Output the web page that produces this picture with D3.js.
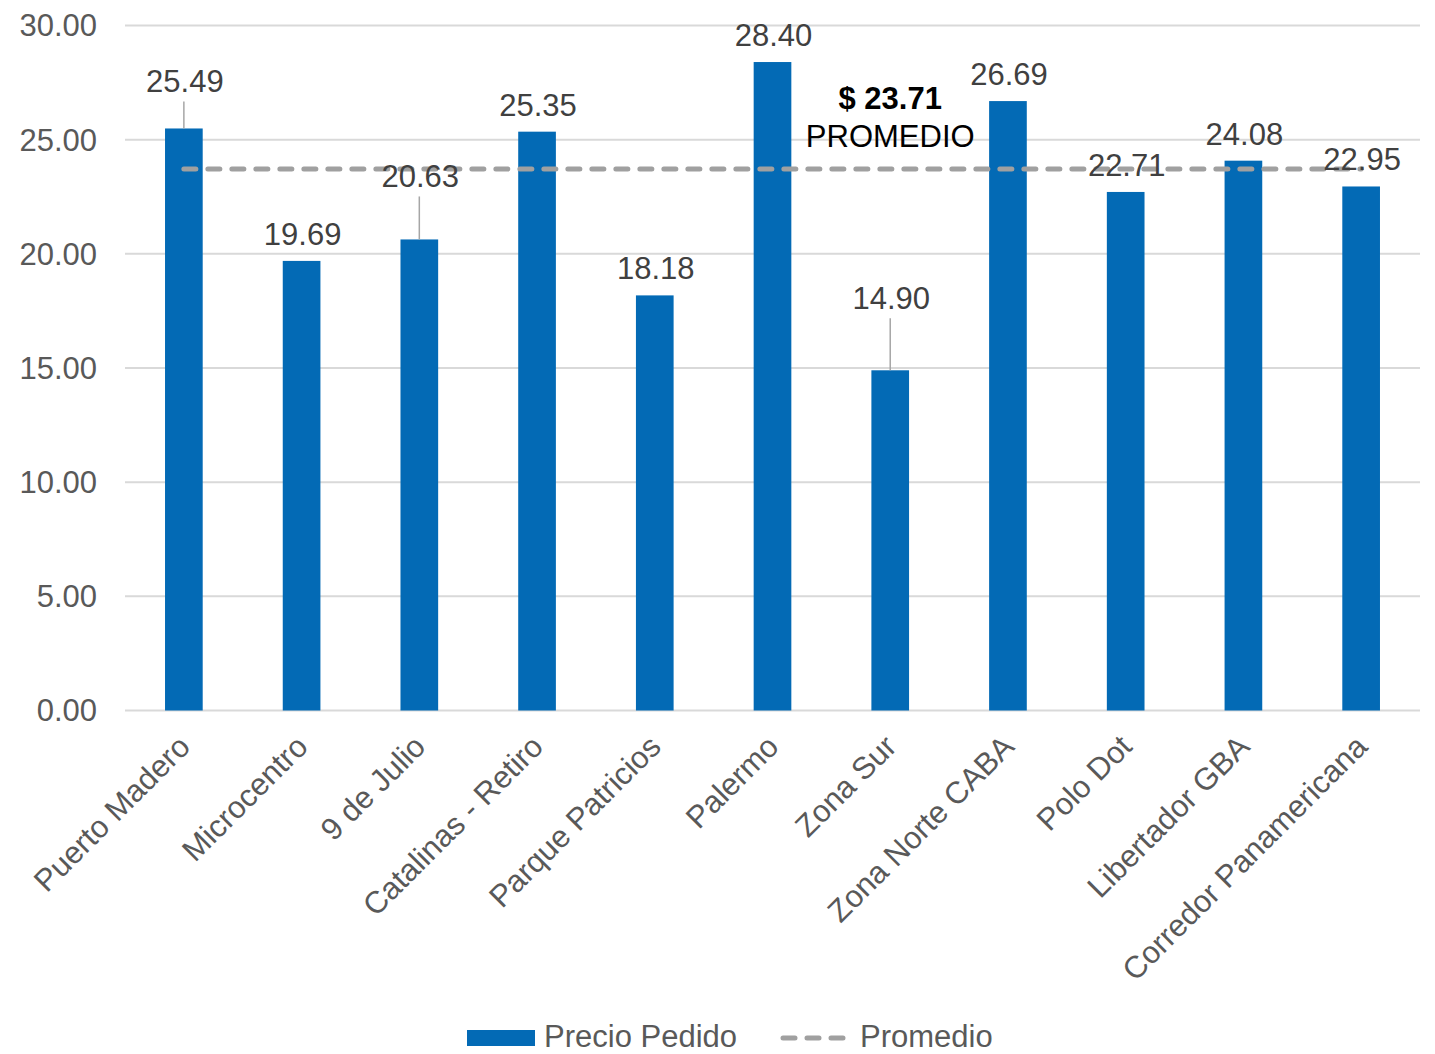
<!DOCTYPE html>
<html>
<head>
<meta charset="utf-8">
<script src="https://cdn.jsdelivr.net/npm/d3@7"></script>
<style>
  html, body { margin: 0; padding: 0; background: #fff; }
  svg text { font-family: "Liberation Sans", Arial, sans-serif; }
</style>
</head>
<body>
<svg id="chart" width="1435" height="1054"></svg>
<script>
// Asking price per zone, with the overall average drawn as a dashed line
const categories = ["Puerto Madero", "Microcentro", "9 de Julio", "Catalinas - Retiro",
  "Parque Patricios", "Palermo", "Zona Sur", "Zona Norte CABA", "Polo Dot",
  "Libertador GBA", "Corredor Panamericana"];
const precioPedido = [25.49, 19.69, 20.63, 25.35, 18.18, 28.40, 14.90, 26.69, 22.71, 24.08, 22.95];
const promedio = 23.71;
const yTicks = [0, 5, 10, 15, 20, 25, 30];
const seriesNames = ["Precio Pedido", "Promedio"];

// Extra lift (px) for labels that sit on a leader line
const leaderLift = { 0: 20, 2: 36, 6: 45 };

const svg = d3.select("#chart");
const margin = { left: 125, right: 15, top: 25.5, bottom: 343.5 };
const W = 1435, H = 1054;
const fs = 31;

const x = d3.scaleBand()
  .domain(categories)
  .range([margin.left, W - margin.right])
  .paddingInner(0.68)
  .paddingOuter(0.34);

const y = d3.scaleLinear()
  .domain([0, 30])
  .range([H - margin.bottom, margin.top]);

const blue = "#036ab5";
const grey = "#a0a0a0";

// Gridlines
svg.append("g")
  .selectAll("line")
  .data(yTicks)
  .join("line")
  .attr("x1", margin.left)
  .attr("x2", W - margin.right)
  .attr("y1", d => y(d))
  .attr("y2", d => y(d))
  .attr("stroke", "#d9d9d9")
  .attr("stroke-width", 2);

// Y axis labels
svg.append("g")
  .selectAll("text")
  .data(yTicks)
  .join("text")
  .attr("x", 97)
  .attr("y", d => y(d))
  .attr("dy", "0.35em")
  .attr("text-anchor", "end")
  .attr("font-size", fs)
  .attr("fill", "#595959")
  .text(d => d3.format(".2f")(d));

// Bars
svg.append("g")
  .selectAll("rect")
  .data(precioPedido)
  .join("rect")
  .attr("x", (d, i) => x(categories[i]))
  .attr("width", x.bandwidth())
  .attr("y", d => y(d))
  .attr("height", d => y(0) - y(d))
  .attr("fill", blue);

// Average line, from first to last category centre
const cx = c => x(c) + x.bandwidth() / 2;
svg.append("line")
  .attr("x1", cx(categories[0]))
  .attr("x2", cx(categories[categories.length - 1]))
  .attr("y1", y(promedio))
  .attr("y2", y(promedio))
  .attr("stroke", grey)
  .attr("stroke-width", 5)
  .attr("stroke-dasharray", "12,12")
  .attr("stroke-linecap", "round");

// Leader lines
svg.append("g")
  .selectAll("line")
  .data(precioPedido.map((v, i) => ({ v, i })).filter(d => leaderLift[d.i]))
  .join("line")
  .attr("x1", d => cx(categories[d.i]))
  .attr("x2", d => cx(categories[d.i]))
  .attr("y1", d => y(d.v))
  .attr("y2", d => y(d.v) - leaderLift[d.i] - 7)
  .attr("stroke", "#a6a6a6")
  .attr("stroke-width", 1.5);

// Value labels
svg.append("g")
  .selectAll("text")
  .data(precioPedido)
  .join("text")
  .attr("x", (d, i) => cx(categories[i]) + 1)
  .attr("y", (d, i) => y(d) - 16 - (leaderLift[i] || 0))
  .attr("text-anchor", "middle")
  .attr("font-size", fs)
  .attr("fill", "#404040")
  .text(d => d3.format(".2f")(d));

// Average annotation
const annX = (cx(categories[5]) + cx(categories[7])) / 2;
svg.append("text")
  .attr("x", annX)
  .attr("y", 109)
  .attr("text-anchor", "middle")
  .attr("font-size", fs)
  .attr("font-weight", "bold")
  .attr("fill", "#000")
  .text("$ " + d3.format(".2f")(promedio));
svg.append("text")
  .attr("x", annX)
  .attr("y", 147)
  .attr("text-anchor", "middle")
  .attr("font-size", fs)
  .attr("fill", "#000")
  .text("PROMEDIO");

// Category labels, rotated
svg.append("g")
  .selectAll("text")
  .data(categories)
  .join("text")
  .attr("transform", d => `translate(${cx(d) + 8},${y(0) + 38}) rotate(-45)`)
  .attr("text-anchor", "end")
  .attr("font-size", fs)
  .attr("fill", "#595959")
  .text(d => d);

// Legend
const lg = svg.append("g");
const ly = 1036;
lg.append("rect")
  .attr("x", 467).attr("y", ly - 6)
  .attr("width", 68).attr("height", 16)
  .attr("fill", blue);
lg.append("text")
  .attr("x", 544).attr("y", ly).attr("dy", "0.35em")
  .attr("font-size", fs).attr("fill", "#595959")
  .text(seriesNames[0]);
lg.append("line")
  .attr("x1", 783).attr("x2", 845)
  .attr("y1", ly + 2).attr("y2", ly + 2)
  .attr("stroke", grey).attr("stroke-width", 5)
  .attr("stroke-dasharray", "12,12")
  .attr("stroke-linecap", "round");
lg.append("text")
  .attr("x", 860).attr("y", ly).attr("dy", "0.35em")
  .attr("font-size", fs).attr("fill", "#595959")
  .text(seriesNames[1]);
</script>
</body>
</html>
